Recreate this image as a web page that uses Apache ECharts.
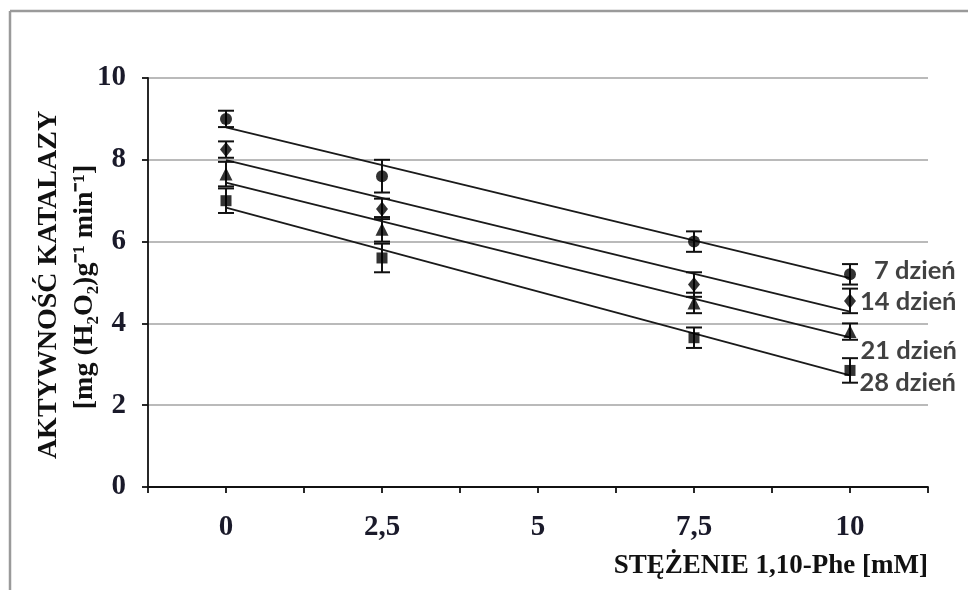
<!DOCTYPE html>
<html>
<head>
<meta charset="utf-8">
<script src="https://cdn.jsdelivr.net/npm/echarts@6/dist/echarts.min.js"></script>
<style>
html,body{margin:0;padding:0;background:#fff;}
#chart{width:968px;height:590px;}
</style>
</head>
<body>
<div id="chart"></div>
<script>
// ---- data ----
const xValues = [0, 2.5, 7.5, 10];
const seriesNames = ['7 dzień', '14 dzień', '21 dzień', '28 dzień'];
const day7  = [9.0, 7.6, 6.0, 5.2];
const day14 = [8.25, 6.8, 4.95, 4.55];
const day21 = [7.65, 6.3, 4.5, 3.8];
const day28 = [7.0, 5.6, 3.65, 2.85];
const err7  = [0.2, 0.4, 0.25, 0.25];
const err14 = [0.2, 0.25, 0.3, 0.3];
const err21 = [0.3, 0.3, 0.25, 0.2];
const err28 = [0.3, 0.35, 0.25, 0.3];
// trend lines (start / end values)
const trendX  = [0, 10];
const trend7  = [8.79, 5.11];
const trend14 = [7.99, 4.29];
const trend21 = [7.44, 3.66];
const trend28 = [6.83, 2.73];
const yTicks = [0, 2, 4, 6, 8, 10];
const xTickLabels = ['0', '2,5', '5', '7,5', '10'];

const values = [day7, day14, day21, day28];
const errors = [err7, err14, err21, err28];
const trends = [trend7, trend14, trend21, trend28];
const symbols = ['circle', 'diamond', 'triangle', 'rect'];
const symbolSizes = [[12,12], [12,15], [13,13], [11,11]];
const labelOffsets = [[15, -4], [1, 1], [1, 19], [1, 12]];

const chart = echarts.init(document.getElementById('chart'), null, {renderer: 'canvas'});

const series = [];
values.forEach((vals, i) => {
  series.push({
    type: 'line',
    data: trendX.map((x, k) => [x, trends[i][k]]),
    symbol: 'none',
    lineStyle: {color: '#1a1a1a', width: 1.8},
    z: 2,
    silent: true
  });
  series.push({
    type: 'custom',
    data: xValues.map((x, k) => [x, vals[k] - errors[i][k], vals[k] + errors[i][k]]),
    renderItem: function (params, api) {
      const lo = api.coord([api.value(0), api.value(1)]);
      const hi = api.coord([api.value(0), api.value(2)]);
      const hw = 8;
      const st = {stroke: '#111', lineWidth: 2};
      return {
        type: 'group',
        children: [
          {type: 'line', shape: {x1: lo[0], y1: lo[1], x2: hi[0], y2: hi[1]}, style: st},
          {type: 'line', shape: {x1: lo[0]-hw, y1: lo[1], x2: lo[0]+hw, y2: lo[1]}, style: st},
          {type: 'line', shape: {x1: hi[0]-hw, y1: hi[1], x2: hi[0]+hw, y2: hi[1]}, style: st}
        ]
      };
    },
    z: 3,
    silent: true
  });
  series.push({
    type: 'scatter',
    name: seriesNames[i],
    data: xValues.map((x, k) => {
      const item = {value: [x, vals[k]]};
      if (k === xValues.length - 1) {
        item.label = {
          show: true,
          position: 'right',
          distance: 3,
          offset: labelOffsets[i],
          formatter: seriesNames[i],
          fontFamily: 'Lato',
          fontWeight: 'bold',
          fontSize: 25.5,
          color: '#111'
        };
      }
      return item;
    }),
    symbol: symbols[i],
    symbolSize: symbolSizes[i],
    itemStyle: {color: '#000'},
    z: 4
  });
});

const serifBold = {fontFamily: 'Liberation Serif', fontWeight: 'bold', fill: '#111'};

chart.setOption({
  animation: false,
  backgroundColor: '#fff',
  grid: {left: 148, right: 40, top: 78, bottom: 103, containLabel: false},
  xAxis: {
    type: 'value',
    min: -1.25, max: 11.25, interval: 1.25,
    axisLine: {onZero: false, lineStyle: {color: '#111', width: 1.8}},
    axisTick: {show: true, inside: false, length: 6, lineStyle: {color: '#111', width: 1.8}},
    splitLine: {show: false},
    axisLabel: {
      margin: 26,
      fontFamily: 'Liberation Serif',
      fontWeight: 'bold',
      fontSize: 29,
      color: '#1a1a2a',
      formatter: function (v) {
        const idx = Math.round(v / 2.5);
        if (Math.abs(v - idx * 2.5) < 1e-6 && idx >= 0 && idx < xTickLabels.length) return xTickLabels[idx];
        return '';
      }
    }
  },
  yAxis: {
    type: 'value',
    min: yTicks[0], max: yTicks[yTicks.length - 1], interval: 2,
    axisLine: {show: true, onZero: false, lineStyle: {color: '#111', width: 1.8}},
    axisTick: {show: true, inside: false, length: 6, lineStyle: {color: '#111', width: 1.8}},
    splitLine: {show: true, lineStyle: {color: '#a3a3a3', width: 1.6}},
    axisLabel: {
      margin: 22,
      fontFamily: 'Liberation Serif',
      fontWeight: 'bold',
      fontSize: 29,
      color: '#1a1a2a'
    }
  },
  graphic: [
    {type: 'line', shape: {x1: 10, y1: 11, x2: 10, y2: 590}, style: {stroke: '#9a9a9a', lineWidth: 2.5}},
    {type: 'line', shape: {x1: 10, y1: 11, x2: 968, y2: 11}, style: {stroke: '#9a9a9a', lineWidth: 2.5}},
    {type: 'text', x: 49, y: 285, rotation: Math.PI / 2,
      style: Object.assign({text: 'AKTYWNOŚĆ KATALAZY', fontSize: 28, align: 'center', verticalAlign: 'middle'}, serifBold)},
    {type: 'text', x: 85, y: 287, rotation: Math.PI / 2,
      style: Object.assign({text: '[mg (H₂O₂)g⁻¹ min⁻¹]', fontSize: 28, align: 'center', verticalAlign: 'middle'}, serifBold)},
    {type: 'text', x: 928, y: 566,
      style: Object.assign({text: 'STĘŻENIE 1,10-Phe [mM]', fontSize: 27, align: 'right', verticalAlign: 'middle'}, serifBold)}
  ],
  series: series
});
</script>
</body>
</html>
